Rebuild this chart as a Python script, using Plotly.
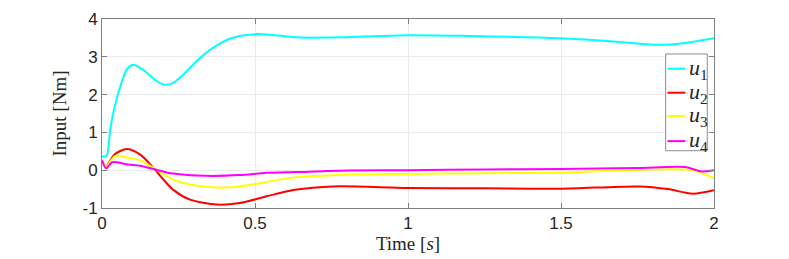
import plotly.graph_objects as go

# ---- data ----
t1 = [0, 0.013, 0.018, 0.027, 0.037, 0.06, 0.082, 0.103, 0.13, 0.158, 0.178, 0.206, 0.233, 0.266, 0.32, 0.375, 0.43, 0.505, 0.647, 0.8, 1.0, 1.2, 1.5, 1.65, 1.82, 1.9, 2.0]
u1 = [0.37, 0.37, 0.45, 1.07, 1.52, 2.22, 2.68, 2.79, 2.68, 2.50, 2.36, 2.26, 2.31, 2.53, 2.97, 3.30, 3.51, 3.60, 3.51, 3.52, 3.57, 3.55, 3.49, 3.42, 3.32, 3.36, 3.49]

t2 = [0, 0.013, 0.04, 0.081, 0.125, 0.168, 0.2, 0.233, 0.288, 0.375, 0.45, 0.538, 0.63, 0.755, 1.0, 1.25, 1.5, 1.755, 1.85, 1.93, 2.0]
u2 = [0.26, 0.10, 0.41, 0.56, 0.41, 0.06, -0.24, -0.52, -0.78, -0.91, -0.87, -0.69, -0.52, -0.43, -0.47, -0.48, -0.49, -0.43, -0.50, -0.62, -0.53]

t3 = [0, 0.013, 0.043, 0.08, 0.125, 0.168, 0.233, 0.288, 0.363, 0.45, 0.538, 0.63, 0.8, 1.0, 1.25, 1.5, 1.75, 1.93, 2.0]
u3 = [0.26, 0.10, 0.38, 0.34, 0.26, 0.06, -0.25, -0.38, -0.45, -0.43, -0.31, -0.19, -0.12, -0.10, -0.08, -0.06, 0.01, 0.0, -0.21]

t4 = [0, 0.013, 0.033, 0.086, 0.125, 0.168, 0.233, 0.34, 0.45, 0.538, 0.63, 0.8, 1.0, 1.25, 1.5, 1.75, 1.91, 1.956, 2.0]
u4 = [0.26, 0.05, 0.21, 0.15, 0.12, 0.03, -0.09, -0.15, -0.13, -0.07, -0.05, -0.01, 0.0, 0.02, 0.03, 0.06, 0.08, -0.03, 0.0]

names = ["<i>u</i><sub>1</sub>", "<i>u</i><sub>2</sub>", "<i>u</i><sub>3</sub>", "<i>u</i><sub>4</sub>"]
colors = ["#00FFFF", "#FF0000", "#FFFF00", "#FF00FF"]

x_ticks = [0, 0.5, 1, 1.5, 2]
x_ticklabels = ["0", "0.5", "1", "1.5", "2"]
y_ticks = [-1, 0, 1, 2, 3, 4]
y_ticklabels = ["-1", "0", "1", "2", "3", "4"]

fig = go.Figure()
for t, u, n, c in zip([t1, t2, t3, t4], [u1, u2, u3, u4], names, colors):
    fig.add_trace(go.Scatter(x=t, y=u, mode="lines", name=n, showlegend=False,
                             line=dict(color=c, width=2, shape="spline", smoothing=0.8)))

# compact MATLAB-style legend box drawn in paper coordinates
leg_x0, leg_x1, leg_top, leg_bot = 0.921, 0.989, 0.815, 0.303
fig.add_shape(type="rect", xref="paper", yref="paper", x0=leg_x0, x1=leg_x1,
              y0=leg_bot, y1=leg_top, line=dict(color="#8c8c8c", width=1),
              fillcolor="white", layer="above")
entry_y = [0.737, 0.610, 0.487, 0.354]
for n, c, yy in zip(names, colors, entry_y):
    fig.add_shape(type="line", xref="paper", yref="paper", x0=0.924, x1=0.953,
                  y0=yy, y1=yy, line=dict(color=c, width=2), layer="above")
    fig.add_annotation(xref="paper", yref="paper", x=0.956, y=yy, text=n,
                       showarrow=False, xanchor="left", yanchor="middle",
                       font=dict(family="Liberation Serif, serif", size=22, color="#262626"))

axis_common = dict(
    showline=True, linecolor="#808080", linewidth=1, mirror="ticks",
    ticks="inside", ticklen=5, tickcolor="#808080",
    showgrid=True, gridcolor="#ebebeb", gridwidth=1, zeroline=False,
    tickfont=dict(family="Liberation Sans, Arial, sans-serif", size=17, color="#262626"),
)

fig.update_layout(
    width=789, height=259,
    margin=dict(l=102, r=75, t=19, b=51, autoexpand=False),
    paper_bgcolor="white", plot_bgcolor="white",
    xaxis=dict(range=[0, 2], tickvals=x_ticks, ticktext=x_ticklabels,
               title=dict(text="Time [<i>s</i>]", standoff=2,
                          font=dict(family="Liberation Serif, serif", size=19, color="#262626")),
               **axis_common),
    yaxis=dict(range=[-1, 4], tickvals=y_ticks, ticktext=y_ticklabels,
               title=dict(text="Input [Nm]", standoff=10,
                          font=dict(family="Liberation Serif, serif", size=19, color="#262626")),
               **axis_common),
    showlegend=False,
)

fig.write_html("out.html", config={"displayModeBar": False},
               post_script="document.body.style.margin='0';document.body.style.overflow='hidden';")
